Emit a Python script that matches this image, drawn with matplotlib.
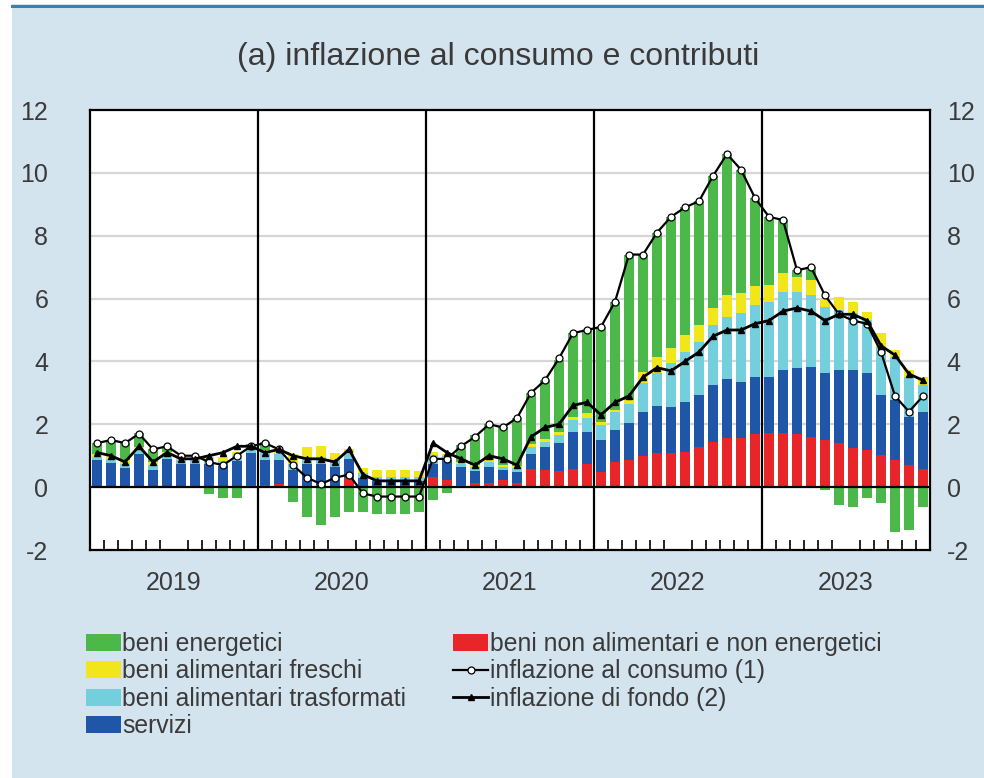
import numpy as np
import matplotlib
matplotlib.use("Agg")
import matplotlib.pyplot as plt
from matplotlib.patches import Rectangle, Patch
from matplotlib.lines import Line2D

plt.rcParams['font.family'] = ['Liberation Sans', 'DejaVu Sans']
plt.rcParams['axes.unicode_minus'] = False

years = ["2019", "2020", "2021", "2022", "2023"]

# contributions (percentage points), monthly Jan 2019 - Dec 2023
non_alimentari = [0.05, 0.05, 0.05, 0.05, 0.05, 0.05, 0.03, 0.03, 0.05, 0.05, 0.04, 0.08,
                  0.08, 0.10, 0.05, 0.05, 0.05, 0.05, 0.28, 0.02, 0.02, 0.02, 0.02, 0.02,
                  0.33, 0.22, 0.06, 0.12, 0.14, 0.24, 0.14, 0.59, 0.54, 0.52, 0.59, 0.75,
                  0.49, 0.81, 0.86, 0.99, 1.09, 1.09, 1.13, 1.28, 1.44, 1.57, 1.57, 1.69,
                  1.71, 1.71, 1.68, 1.60, 1.50, 1.39, 1.23, 1.18, 1.02, 0.86, 0.70, 0.59]
servizi = [0.80, 0.73, 0.55, 1.00, 0.50, 0.85, 0.72, 0.72, 0.68, 0.62, 0.80, 1.00,
           0.78, 0.75, 0.50, 0.70, 0.70, 0.60, 0.60, 0.28, 0.17, 0.17, 0.17, 0.17,
           0.42, 0.64, 0.59, 0.40, 0.51, 0.30, 0.35, 0.48, 0.74, 0.87, 1.17, 1.01,
           1.01, 1.01, 1.17, 1.41, 1.49, 1.47, 1.59, 1.65, 1.81, 1.86, 1.78, 1.82,
           1.80, 2.02, 2.10, 2.23, 2.12, 2.34, 2.50, 2.44, 1.91, 1.91, 1.54, 1.81]
trasformati = [0.12, 0.12, 0.15, 0.12, 0.15, 0.12, 0.12, 0.12, 0.12, 0.15, 0.15, 0.15,
               0.25, 0.22, 0.20, 0.22, 0.20, 0.20, 0.18, 0.15, 0.12, 0.12, 0.12, 0.12,
               0.27, 0.13, 0.10, 0.13, 0.16, 0.11, 0.12, 0.21, 0.16, 0.27, 0.37, 0.43,
               0.47, 0.58, 0.63, 0.90, 1.04, 1.38, 1.59, 1.70, 1.91, 1.99, 2.18, 2.29,
               2.39, 2.49, 2.44, 2.28, 2.12, 1.91, 1.80, 1.70, 1.54, 1.38, 1.27, 0.85]
freschi = [0.10, 0.10, 0.10, 0.10, 0.10, 0.10, 0.08, 0.08, 0.10, 0.15, 0.12, 0.10,
           0.08, 0.10, 0.30, 0.30, 0.35, 0.25, 0.15, 0.17, 0.22, 0.22, 0.23, 0.20,
           0.10, 0.05, 0.05, 0.05, 0.05, 0.05, 0.05, 0.10, 0.10, 0.10, 0.11, 0.16,
           0.11, 0.07, 0.11, 0.35, 0.53, 0.48, 0.53, 0.53, 0.53, 0.69, 0.66, 0.60,
           0.53, 0.58, 0.48, 0.48, 0.24, 0.42, 0.37, 0.26, 0.43, 0.21, 0.22, 0.26]
energetici = [0.35, 0.45, 0.55, 0.45, 0.40, 0.15, 0.05, 0.02, -0.22, -0.36, -0.36, 0.05,
              0.25, 0.00, -0.47, -0.94, -1.20, -0.94, -0.80, -0.79, -0.84, -0.84, -0.86, -0.79,
              -0.41, -0.18, 0.55, 0.96, 1.14, 1.22, 1.55, 1.61, 1.87, 2.28, 2.65, 2.65,
              3.02, 3.43, 4.63, 3.75, 3.95, 4.18, 4.06, 3.94, 4.21, 4.49, 3.91, 2.80,
              2.17, 1.70, 0.20, 0.41, -0.10, -0.57, -0.63, -0.33, -0.52, -1.42, -1.37, -0.63]

inflazione_consumo = [1.4, 1.5, 1.4, 1.7, 1.2, 1.3, 1.0, 1.0, 0.8, 0.7, 1.0, 1.3,
                      1.4, 1.2, 0.7, 0.3, 0.1, 0.3, 0.4, -0.2, -0.3, -0.3, -0.3, -0.3,
                      0.9, 0.9, 1.3, 1.6, 2.0, 1.9, 2.2, 3.0, 3.4, 4.1, 4.9, 5.0,
                      5.1, 5.9, 7.4, 7.4, 8.1, 8.6, 8.9, 9.1, 9.9, 10.6, 10.1, 9.2,
                      8.6, 8.5, 6.9, 7.0, 6.1, 5.5, 5.3, 5.2, 4.3, 2.9, 2.4, 2.9]
inflazione_fondo = [1.1, 1.0, 0.8, 1.3, 0.8, 1.1, 0.9, 0.9, 1.0, 1.1, 1.3, 1.3,
                    1.1, 1.2, 1.0, 0.9, 0.9, 0.8, 1.2, 0.4, 0.2, 0.2, 0.2, 0.2,
                    1.4, 1.1, 0.9, 0.7, 1.0, 0.9, 0.7, 1.6, 1.9, 2.0, 2.6, 2.7,
                    2.3, 2.7, 2.9, 3.5, 3.8, 3.7, 4.0, 4.3, 4.8, 5.0, 5.0, 5.2,
                    5.3, 5.6, 5.7, 5.6, 5.3, 5.5, 5.5, 5.3, 4.5, 4.2, 3.6, 3.4]

series = [
    ("beni non alimentari e non energetici", non_alimentari, "#e8262a"),
    ("servizi", servizi, "#1f56a8"),
    ("beni alimentari trasformati", trasformati, "#74cfdc"),
    ("beni alimentari freschi", freschi, "#f1e61a"),
    ("beni energetici", energetici, "#4cb84a"),
]

TXT = "#3a3a3a"
BG = "#d4e4ee"
fig = plt.figure(figsize=(9.84, 7.78), dpi=100)
fig.patch.set_facecolor("white")
fig.add_artist(Rectangle((12/984, 0), 1, 1 - 4/778, transform=fig.transFigure,
                         facecolor=BG, edgecolor="none", zorder=-10))
fig.add_artist(Line2D([12/984, 1], [1 - 6/778, 1 - 6/778], transform=fig.transFigure,
                      color="#3f80a8", lw=2.2))

ax = fig.add_axes([90/984, 1 - 550/778, 840/984, 440/778])
ax.set_facecolor("white")
n = len(inflazione_consumo)
x = np.arange(n)

pos_bottom = np.zeros(n)
neg_bottom = np.zeros(n)
handles = {}
for name, vals, col in series:
    v = np.array(vals)
    pos = np.where(v > 0, v, 0)
    neg = np.where(v < 0, v, 0)
    ax.bar(x, pos, bottom=pos_bottom, width=0.75, color=col, zorder=2, linewidth=0)
    ax.bar(x, neg, bottom=neg_bottom, width=0.75, color=col, zorder=2, linewidth=0)
    pos_bottom += pos
    neg_bottom += neg
    handles[name] = Patch(facecolor=col, edgecolor="none")

l1, = ax.plot(x, inflazione_consumo, color="black", lw=1.6, marker="o", ms=5,
              mfc="white", mec="black", mew=0.9, zorder=5)
l2, = ax.plot(x, inflazione_fondo, color="black", lw=2.0, marker="^", ms=5,
              mfc="black", mec="black", zorder=6)

ax.set_xlim(-0.5, n - 0.5)
ax.set_ylim(-2, 12)
ax.set_yticks(range(-2, 13, 2))
for yv in range(2, 12, 2):
    ax.axhline(yv, color="#d6d6d6", lw=1.6, zorder=1)
ax.axhline(0, color="black", lw=1.6, zorder=4)
for b in [11.5, 23.5, 35.5, 47.5]:
    ax.axvline(b, color="black", lw=1.6, zorder=4)

for s in ax.spines.values():
    s.set_linewidth(1.6)
    s.set_zorder(7)

ax.set_xticks([5.5, 17.5, 29.5, 41.5, 53.5])
ax.set_xticklabels(years, fontsize=18, color=TXT)
ax.set_xticks([i + 0.5 for i in range(n - 1) if (i + 1) % 12 != 0], minor=True)
ax.tick_params(axis="x", which="major", length=0, pad=15)
ax.tick_params(axis="x", which="minor", direction="in", length=7, width=1.2, color="black")
ax.tick_params(axis="y", which="both", length=0, labelsize=18, pad=30, labelcolor=TXT)

ax2 = ax.twinx()
ax2.set_ylim(ax.get_ylim())
ax2.set_yticks(range(-2, 13, 2))
ax2.tick_params(axis="y", length=0, labelsize=18, pad=12, labelcolor=TXT)
for s in ax2.spines.values():
    s.set_visible(False)

fig.text(498/984, 1 - 57/778, "(a) inflazione al consumo e contributi", ha="center",
         va="center", fontsize=23, color=TXT)

leg_handles = [handles["beni energetici"], handles["beni alimentari freschi"],
               handles["beni alimentari trasformati"], handles["servizi"],
               handles["beni non alimentari e non energetici"], l1, l2]
leg_labels = ["beni energetici", "beni alimentari freschi", "beni alimentari trasformati",
              "servizi", "beni non alimentari e non energetici",
              "inflazione al consumo (1)", "inflazione di fondo (2)"]
fig.legend(leg_handles, leg_labels, loc="upper left",
           bbox_to_anchor=(86/984, 1 - 632/778), ncol=2, frameon=False,
           fontsize=17.8, handlelength=1.42, handletextpad=0.05, labelspacing=0.14,
           columnspacing=1.9, borderpad=0, borderaxespad=0, labelcolor=TXT)

fig.savefig("out.png", dpi=100, facecolor=fig.get_facecolor())
